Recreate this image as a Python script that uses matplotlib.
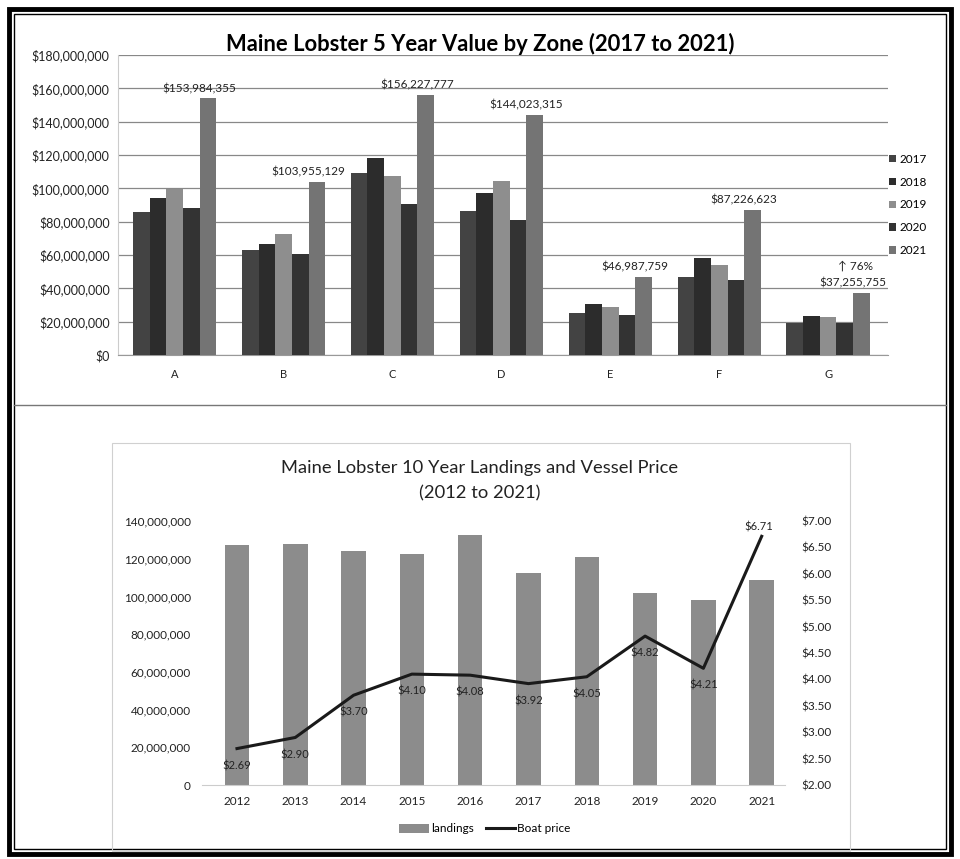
import matplotlib.pyplot as plt
import matplotlib.patches as patches
import numpy as np
from matplotlib.ticker import FuncFormatter

plt.rcParams['font.family'] = ['Lato', 'DejaVu Sans']

# zone values (dollars), 2017-2021
zones = ['A', 'B', 'C', 'D', 'E', 'F', 'G']
years5 = ['2017', '2018', '2019', '2020', '2021']
v2017 = [86.0e6, 63.2e6, 109.0e6, 86.6e6, 25.0e6, 46.6e6, 19.0e6]
v2018 = [94.2e6, 66.6e6, 118.0e6, 97.0e6, 30.4e6, 58.0e6, 23.4e6]
v2019 = [99.6e6, 72.6e6, 107.6e6, 104.6e6, 29.0e6, 54.0e6, 22.6e6]
v2020 = [88.4e6, 60.6e6, 90.6e6, 81.0e6, 24.0e6, 45.0e6, 19.0e6]
v2021 = [153984355, 103955129, 156227777, 144023315, 46987759, 87226623, 37255755]
zone_colors = ['#434343', '#2c2c2c', '#8e8e8e', '#333333', '#747474']

# 10 year landings (lbs) and boat price
years10 = ['2012', '2013', '2014', '2015', '2016', '2017', '2018', '2019', '2020', '2021']
landings = [127.1e6, 127.6e6, 123.9e6, 122.7e6, 132.4e6, 112.4e6, 120.9e6, 101.9e6, 98.0e6, 108.9e6]
boat_price = [2.69, 2.90, 3.70, 4.10, 4.08, 3.92, 4.05, 4.82, 4.21, 6.71]

fig = plt.figure(figsize=(9.6, 8.59), dpi=100)

# frames
W, H = 960, 859
def fx(x): return x / W
def fy(y): return 1 - y / H
fig.patches.append(patches.Rectangle((fx(9), fy(854)), fx(942), 845 / H, transform=fig.transFigure,
                                     fill=False, lw=3.5, ec='black'))
fig.patches.append(patches.Rectangle((fx(14), fy(849)), fx(932), 835 / H, transform=fig.transFigure,
                                     fill=False, lw=1.0, ec='black'))
fig.lines.append(plt.Line2D([fx(14), fx(946)], [fy(405), fy(405)], transform=fig.transFigure,
                            color='#777777', lw=1.0))
fig.patches.append(patches.Rectangle((fx(112), fy(851)), fx(738), 408 / H, transform=fig.transFigure,
                                     fill=False, lw=0.8, ec='#d0d0d0'))

# ---- top chart ----
ax = fig.add_axes([fx(118), fy(355), fx(770), 300 / H])
series = [v2017, v2018, v2019, v2020, v2021]
x = np.arange(len(zones))
bw = 0.153
for i, vals in enumerate(series):
    ax.bar(x + (i - 2) * bw, vals, bw, color=zone_colors[i], label=years5[i], zorder=3)
for xi, v in zip(x, v2021):
    ax.text(xi + 2 * bw - 0.08, v + 2.5e6, '${:,.0f}'.format(v), ha='center', va='bottom',
            fontsize=8.5, color='#222222', zorder=4)
ax.text(x[-1] + 2 * bw - 0.05, v2021[-1] + 13e6, '↑ 76%', ha='center', va='bottom',
        fontsize=8.5, color='#222222')
ax.set_ylim(0, 180e6)
ax.set_yticks(np.arange(0, 180e6 + 1, 20e6))
ax.yaxis.set_major_formatter(FuncFormatter(lambda v, p: '${:,.0f}'.format(v)))
ax.set_xlim(-0.52, 6.55)
ax.set_xticks(x)
ax.set_xticklabels(zones)
ax.grid(axis='y', color='#888888', lw=0.9, zorder=0)
for s in ['top', 'right']:
    ax.spines[s].set_visible(False)
ax.spines['left'].set_color('#cccccc')
ax.spines['bottom'].set_color('#999999')
ax.tick_params(axis='y', length=0, labelsize=9, colors='#222222', pad=6)
ax.tick_params(axis='x', length=0, labelsize=8, colors='#222222', pad=10)
ax.set_title('Maine Lobster 5 Year Value by Zone (2017 to 2021)', fontsize=15.8, fontweight='bold',
             pad=2, x=0.47)
leg = ax.legend(loc='center left', bbox_to_anchor=(0.995, 0.5), frameon=False, fontsize=8.5,
                handlelength=0.6, handleheight=0.6, handletextpad=0.3, labelspacing=1.0,
                borderaxespad=0)

# ---- bottom chart ----
ax2 = fig.add_axes([fx(202), fy(785), fx(583), 264 / H])
x2 = np.arange(len(years10))
ax2.bar(x2, landings, 0.42, color='#8c8c8c', label='landings', zorder=2)
ax2.set_ylim(0, 140e6)
ax2.set_yticks(np.arange(0, 140e6 + 1, 20e6))
ax2.yaxis.set_major_formatter(FuncFormatter(lambda v, p: '{:,.0f}'.format(v)))
ax2.set_xlim(-0.6, 9.4)
ax2.set_xticks(x2)
ax2.set_xticklabels(years10)
for s in ['top', 'right', 'left']:
    ax2.spines[s].set_visible(False)
ax2.spines['bottom'].set_color('#cccccc')
ax2.tick_params(axis='both', length=0, labelsize=8.5, colors='#222222', pad=8)

ax3 = ax2.twinx()
ln, = ax3.plot(x2, boat_price, color='#1a1a1a', lw=2.2, label='Boat price', zorder=4)
ax3.set_ylim(2.0, 7.0)
ax3.set_yticks(np.arange(2.0, 7.01, 0.5))
ax3.yaxis.set_major_formatter(FuncFormatter(lambda v, p: '${:.2f}'.format(v)))
for s in ['top', 'right', 'left', 'bottom']:
    ax3.spines[s].set_visible(False)
ax3.tick_params(axis='y', length=0, labelsize=8.5, colors='#222222', pad=12)
for xi, p in zip(x2, boat_price):
    if xi == 9:
        ax3.text(xi - 0.05, p + 0.08, '${:.2f}'.format(p), ha='center', va='bottom', fontsize=8,
                 color='#222222')
    else:
        ax3.text(xi, p - 0.22, '${:.2f}'.format(p), ha='center', va='top', fontsize=8,
                 color='#222222')

fig.text(0.5, fy(468), 'Maine Lobster 10 Year Landings and Vessel Price', ha='center', va='center',
         fontsize=13.2, color='#222222')
fig.text(0.5, fy(493), '(2012 to 2021)', ha='center', va='center', fontsize=13.2, color='#222222')

handles = [ax2.patches[0], ln]
fig.legend(handles, ['landings', 'Boat price'], loc='center', bbox_to_anchor=(fx(485), fy(829)),
           ncol=2, frameon=False, fontsize=8.5, handlelength=2.5, columnspacing=1.0, handletextpad=0.2)

fig.savefig('out.png', dpi=100)
